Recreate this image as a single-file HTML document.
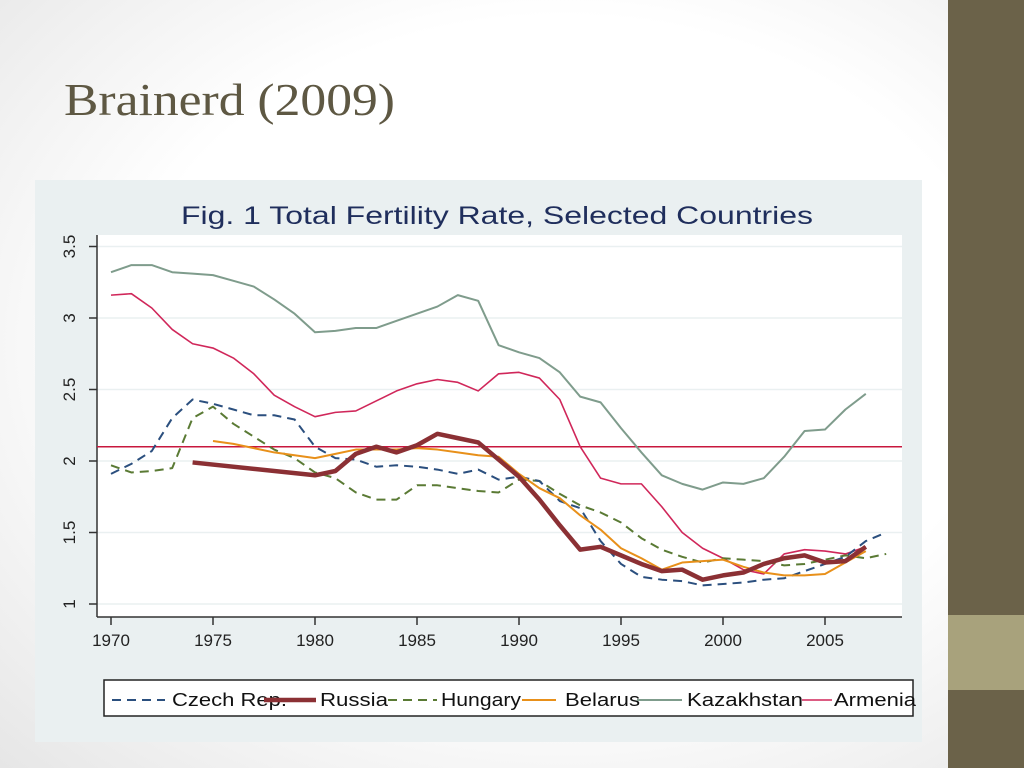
<!DOCTYPE html>
<html><head><meta charset="utf-8"><style>
html,body{margin:0;padding:0;width:1024px;height:768px;overflow:hidden;background:#fff;}
#bg{position:absolute;left:0;top:0;width:1024px;height:768px;background:radial-gradient(ellipse at 55% 45%,#ffffff 55%,#e6e6e6 100%);}
</style></head><body>
<div id="bg"></div>
<svg id="s" width="1024" height="768" style="position:absolute;left:0;top:0">
<rect x="948" y="0" width="76" height="768" fill="#6b6249"/>
<rect x="948" y="615" width="76" height="75" fill="#a8a27c"/>
<text x="64" y="115" font-family="Liberation Serif, serif" font-size="46" fill="#5e5843" textLength="331" lengthAdjust="spacingAndGlyphs">Brainerd (2009)</text>
<rect x="35" y="180" width="887" height="562" fill="#eaf0f1"/>
<rect x="97" y="235" width="805" height="382" fill="#fff"/>
<text x="181" y="224" font-family="Liberation Sans, sans-serif" font-size="25" fill="#1f2e5c" textLength="632" lengthAdjust="spacingAndGlyphs">Fig. 1  Total Fertility Rate, Selected Countries</text>
<g id="grid"></g><g id="axes"></g><g id="series"></g>
<rect x="104" y="680" width="809" height="36" fill="#fff" stroke="#222" stroke-width="1.5"/>
<g id="legend"></g>
</svg>
<script>
const ns="http://www.w3.org/2000/svg";
const yTicks=[1,1.5,2,2.5,3,3.5];
const yTickLabels=["1","1.5","2","2.5","3","3.5"];
const xTicks=[1970,1975,1980,1985,1990,1995,2000,2005];
const refLine=2.1;
const yrsCz=[1970,1971,1972,1973,1974,1975,1976,1977,1978,1979,1980,1981,1982,1983,1984,1985,1986,1987,1988,1989,1990,1991,1992,1993,1994,1995,1996,1997,1998,1999,2000,2001,2002,2003,2004,2005,2006,2007,2008];
const czech=[1.91,1.98,2.07,2.30,2.43,2.40,2.36,2.32,2.32,2.29,2.10,2.02,2.01,1.96,1.97,1.96,1.94,1.91,1.94,1.87,1.89,1.86,1.72,1.67,1.44,1.28,1.19,1.17,1.16,1.13,1.14,1.15,1.17,1.18,1.23,1.28,1.33,1.44,1.50];
const yrsHu=yrsCz;
const hungary=[1.97,1.92,1.93,1.95,2.30,2.38,2.26,2.17,2.08,2.02,1.92,1.88,1.78,1.73,1.73,1.83,1.83,1.81,1.79,1.78,1.87,1.86,1.77,1.69,1.64,1.57,1.46,1.38,1.33,1.29,1.32,1.31,1.30,1.27,1.28,1.31,1.34,1.32,1.35];
const yrsRu=[1974,1980,1981,1982,1983,1984,1985,1986,1987,1988,1989,1990,1991,1992,1993,1994,1995,1996,1997,1998,1999,2000,2001,2002,2003,2004,2005,2006,2007];
const russia=[1.99,1.90,1.93,2.05,2.10,2.06,2.11,2.19,2.16,2.13,2.01,1.89,1.73,1.55,1.38,1.40,1.34,1.28,1.23,1.24,1.17,1.20,1.22,1.28,1.32,1.34,1.29,1.30,1.40];
const yrsBy=[1975,1976,1977,1978,1979,1980,1981,1982,1983,1984,1985,1986,1987,1988,1989,1990,1991,1992,1993,1994,1995,1996,1997,1998,1999,2000,2001,2002,2003,2004,2005,2006,2007];
const belarus=[2.14,2.12,2.09,2.06,2.04,2.02,2.05,2.08,2.08,2.08,2.09,2.08,2.06,2.04,2.03,1.91,1.81,1.74,1.62,1.52,1.39,1.32,1.24,1.29,1.30,1.31,1.26,1.22,1.20,1.20,1.21,1.29,1.37];
const yrsKz=[1970,1971,1972,1973,1974,1975,1976,1977,1978,1979,1980,1981,1982,1983,1984,1985,1986,1987,1988,1989,1990,1991,1992,1993,1994,1995,1996,1997,1998,1999,2000,2001,2002,2003,2004,2005,2006,2007];
const kazakhstan=[3.32,3.37,3.37,3.32,3.31,3.30,3.26,3.22,3.13,3.03,2.90,2.91,2.93,2.93,2.98,3.03,3.08,3.16,3.12,2.81,2.76,2.72,2.62,2.45,2.41,2.23,2.06,1.90,1.84,1.80,1.85,1.84,1.88,2.03,2.21,2.22,2.36,2.47];
const yrsAm=yrsKz;
const armenia=[3.16,3.17,3.07,2.92,2.82,2.79,2.72,2.61,2.46,2.38,2.31,2.34,2.35,2.42,2.49,2.54,2.57,2.55,2.49,2.61,2.62,2.58,2.43,2.10,1.88,1.84,1.84,1.68,1.50,1.39,1.32,1.24,1.21,1.35,1.38,1.37,1.35,1.40];

const X=y=>111+(y-1970)*20.4;
const Y=v=>604-(v-1)*143;
function mk(tag,attrs,parent){const e=document.createElementNS(ns,tag);for(const k in attrs)e.setAttribute(k,attrs[k]);document.getElementById(parent).appendChild(e);return e;}

yTicks.forEach((t,i)=>{
  const g=mk('line',{x1:97,x2:902,y1:Y(t),y2:Y(t),stroke:'#eaf0f1','stroke-width':1.5},'grid');
  
  
  const tk=mk('line',{x1:89,x2:97,y1:Y(t),y2:Y(t),stroke:'#333','stroke-width':1.5},'axes');
  
  
  const tx=mk('text',{x:0,y:0,transform:`translate(75,${Y(t)}) rotate(-90)`,'text-anchor':'middle','font-family':'Liberation Sans, sans-serif','font-size':17,fill:'#222'},'axes');
  tx.textContent=yTickLabels[i];
  
  
});
const ya=mk('line',{x1:97,x2:97,y1:235,y2:617,stroke:'#333','stroke-width':1.5},'axes');


const xa=mk('line',{x1:97,x2:902,y1:617,y2:617,stroke:'#333','stroke-width':1.5},'axes');


xTicks.forEach(t=>{
  const tk=mk('line',{x1:X(t),x2:X(t),y1:617,y2:625,stroke:'#333','stroke-width':1.5},'axes');
  
  
  const tx=mk('text',{x:X(t),y:646,'text-anchor':'middle','font-family':'Liberation Sans, sans-serif','font-size':17,fill:'#222'},'axes');
  tx.textContent=String(t);
  
  
});
const rl=mk('line',{x1:97,x2:902,y1:Y(refLine),y2:Y(refLine),stroke:'#c8173e','stroke-width':1.5},'series');



const styles=[
 {name:'Czech Rep.',yrs:yrsCz,vals:czech,c:'#2b4f7e',w:2,d:'9 6',id:'czech'},
 {name:'Russia',yrs:yrsRu,vals:russia,c:'#8b3034',w:4.5,d:'',id:'russia'},
 {name:'Hungary',yrs:yrsHu,vals:hungary,c:'#5a7a34',w:2,d:'9 6',id:'hungary'},
 {name:'Belarus',yrs:yrsBy,vals:belarus,c:'#e8901a',w:2,d:'',id:'belarus'},
 {name:'Kazakhstan',yrs:yrsKz,vals:kazakhstan,c:'#7f9c8c',w:2,d:'',id:'kazakhstan'},
 {name:'Armenia',yrs:yrsAm,vals:armenia,c:'#d0275a',w:1.6,d:'',id:'armenia'}];
const order=[4,5,2,0,3,1];
order.forEach(i=>{const s=styles[i];
  const p=mk('polyline',{points:s.yrs.map((y,j)=>X(y)+','+Y(s.vals[j])).join(' '),fill:'none',stroke:s.c,'stroke-width':s.w,'stroke-dasharray':s.d,'stroke-linejoin':'round'},'series');
  
  
});
const lineX0=[112,264,388,522,637,802];
const lineX1=[165,316,437,556,682,832];
const textX=[172,320,441,565,687,834];
const textW=[115,68,80,75,116,82];
styles.forEach((s,i)=>{
  const l=mk('line',{x1:lineX0[i],x2:lineX1[i],y1:700,y2:700,stroke:s.c,'stroke-width':s.w,'stroke-dasharray':s.d},'legend');
  
  
  const t=mk('text',{x:textX[i],y:706,'font-family':'Liberation Sans, sans-serif','font-size':18,fill:'#111',textLength:textW[i],lengthAdjust:'spacingAndGlyphs'},'legend');
  t.textContent=s.name;
  
  
});
</script>
</body></html>
